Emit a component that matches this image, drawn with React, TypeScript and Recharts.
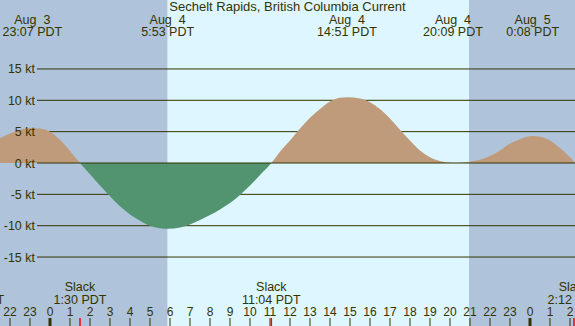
import React from 'react';
import { ComposedChart, Area, XAxis, YAxis, ReferenceArea, ReferenceLine } from 'recharts';

// hours since Aug 4 00:00 PDT
const hours = [-2.5, -2, -1.5, -0.88, -0.5, 0, 0.5, 1, 1.5, 2, 2.5, 3, 3.5, 4, 4.5, 5, 5.5, 5.9, 6.5, 7, 7.5, 8, 8.5, 9, 9.5, 10, 10.5, 11.07, 11.5, 12, 12.5, 13, 13.5, 14, 14.5, 14.85, 15.5, 16, 16.5, 17, 17.5, 18, 18.5, 19, 19.5, 20.15, 21, 21.5, 22, 22.5, 23, 23.5, 24.13, 24.5, 25, 25.5, 26, 26.25];
const knots = [4.0, 4.7, 5.3, 5.6, 5.5, 5.0, 3.7, 1.9, 0, -1.8, -3.6, -5.3, -6.9, -8.2, -9.2, -10.0, -10.4, -10.5, -10.3, -9.8, -9.1, -8.3, -7.4, -6.4, -5.1, -3.6, -1.9, 0, 1.8, 3.6, 5.5, 7.2, 8.6, 9.8, 10.4, 10.5, 10.3, 9.7, 8.6, 7.1, 5.3, 3.6, 2.0, 0.9, 0.3, 0, 0.2, 0.5, 1.1, 2.0, 3.1, 3.8, 4.3, 4.2, 3.6, 2.4, 0.9, 0];

const knotTicks = [-15, -10, -5, 0, 5, 10, 15];
const knotLabels = ['-15 kt', '-10 kt', '-5 kt', '0 kt', '5 kt', '10 kt', '15 kt'];

const hourTicks = [-2, -1, 0, 1, 2, 3, 4, 5, 6, 7, 8, 9, 10, 11, 12, 13, 14, 15, 16, 17, 18, 19, 20, 21, 22, 23, 24, 25, 26];
const hourLabels = ['22', '23', '0', '1', '2', '3', '4', '5', '6', '7', '8', '9', '10', '11', '12', '13', '14', '15', '16', '17', '18', '19', '20', '21', '22', '23', '0', '1', '2'];
const midnightTicks = [0, 24];

const eventHours = [-0.883, 5.883, 14.85, 20.15, 24.133];
const eventDates = ['Aug  3', 'Aug  4', 'Aug  4', 'Aug  4', 'Aug  5'];
const eventTimes = ['23:07 PDT', '5:53 PDT', '14:51 PDT', '20:09 PDT', '0:08 PDT'];

const slackHours = [-3.783, 1.5, 11.067, 26.2];
const slackTimes = ['20:13 PDT', '1:30 PDT', '11:04 PDT', '2:12 PDT'];

const sunrise = 5.883;
const sunset = 20.95;
const xMin = -2.5;
const xMax = 26.25;
const gridStart = -0.65;

const data = hours.map((h, i) => ({ h, v: knots[i] }));

const W = 575;
const H = 326;
const FONT = '"Liberation Sans", Arial, sans-serif';
const TEXT = '#333300';
const NIGHT = '#afc3da';
const DAY = '#ddf6ff';
const FLOOD = '#bf9b7b';
const EBB = '#529470';
const FS = 12.5;

const textStyle: React.CSSProperties = { whiteSpace: 'pre' };

const YTick = (props: any) => {
  const { y, payload } = props;
  const i = knotTicks.indexOf(payload.value);
  return (
    <text x={35} y={y + 4.5} textAnchor="end" fontFamily={FONT} fontSize={FS} fill={TEXT}>
      {knotLabels[i]}
    </text>
  );
};

const HourTick = (props: any) => {
  const { x, payload } = props;
  const i = hourTicks.indexOf(payload.value);
  const thick = midnightTicks.includes(payload.value);
  return (
    <g>
      <text x={x} y={316} textAnchor="middle" fontFamily={FONT} fontSize={12} fill={TEXT}>
        {hourLabels[i]}
      </text>
      <line x1={x} x2={x} y1={318} y2={H} stroke={TEXT} strokeWidth={thick ? 3 : 1} />
    </g>
  );
};

const EventTick = (props: any) => {
  const { x, payload } = props;
  const i = eventHours.indexOf(payload.value);
  return (
    <g>
      <text x={x} y={24} textAnchor="middle" fontFamily={FONT} fontSize={FS} fill={TEXT} style={textStyle}>
        {eventDates[i]}
      </text>
      <text x={x} y={36} textAnchor="middle" fontFamily={FONT} fontSize={FS} fill={TEXT} style={textStyle}>
        {eventTimes[i]}
      </text>
    </g>
  );
};

const SlackTick = (props: any) => {
  const { x, payload } = props;
  const i = slackHours.indexOf(payload.value);
  return (
    <g>
      <text x={x} y={291} textAnchor="middle" fontFamily={FONT} fontSize={FS} fill={TEXT}>
        Slack
      </text>
      <text x={x} y={304} textAnchor="middle" fontFamily={FONT} fontSize={FS} fill={TEXT}>
        {slackTimes[i]}
      </text>
      <line x1={x} x2={x} y1={318} y2={H} stroke="#ff0000" strokeWidth={1.5} />
    </g>
  );
};

export default function App() {
  return (
    <div style={{ position: 'absolute', left: 0, top: 0, width: W, height: H }}>
      <ComposedChart width={W} height={H} data={data} margin={{ top: 0, right: 0, bottom: 0, left: 0 }}>
        <defs>
          <linearGradient id="floodEbb" gradientUnits="userSpaceOnUse" x1="0" y1="0" x2="0" y2={H}>
            <stop offset="0.5" stopColor={FLOOD} />
            <stop offset="0.5" stopColor={EBB} />
          </linearGradient>
        </defs>
        <XAxis
          dataKey="h"
          type="number"
          domain={[xMin, xMax]}
          allowDataOverflow
          ticks={hourTicks}
          interval={0}
          mirror
          axisLine={false}
          tickLine={false}
          tick={<HourTick />}
        />
        <XAxis
          xAxisId="top"
          dataKey="h"
          orientation="top"
          type="number"
          domain={[xMin, xMax]}
          allowDataOverflow
          ticks={eventHours}
          interval={0}
          mirror
          axisLine={false}
          tickLine={false}
          tick={<EventTick />}
        />
        <XAxis
          xAxisId="slack"
          dataKey="h"
          type="number"
          domain={[xMin, xMax]}
          allowDataOverflow
          ticks={slackHours}
          interval={0}
          mirror
          axisLine={false}
          tickLine={false}
          tick={<SlackTick />}
        />
        <YAxis
          type="number"
          domain={[-26, 26]}
          allowDataOverflow
          ticks={knotTicks}
          interval={0}
          mirror
          axisLine={false}
          tickLine={false}
          tick={<YTick />}
        />
        <ReferenceArea x1={xMin} x2={sunrise} fill={NIGHT} fillOpacity={1} stroke="none" zIndex={-300} />
        <ReferenceArea x1={sunrise} x2={sunset} fill={DAY} fillOpacity={1} stroke="none" zIndex={-300} />
        <ReferenceArea x1={sunset} x2={xMax} fill={NIGHT} fillOpacity={1} stroke="none" zIndex={-300} />
        {knotTicks.filter((k) => k !== 0).map((k) => (
          <ReferenceLine
            key={k}
            segment={[{ x: gridStart, y: k }, { x: xMax, y: k }]}
            stroke={TEXT}
            strokeWidth={1}
            zIndex={-200}
          />
        ))}
        <Area
          type="monotone"
          dataKey="v"
          baseValue={0}
          stroke="none"
          fill="url(#floodEbb)"
          fillOpacity={1}
          isAnimationActive={false}
          dot={false}
          activeDot={false}
        />
        <ReferenceLine
          segment={[{ x: gridStart, y: 0 }, { x: xMax, y: 0 }]}
          stroke={TEXT}
          strokeWidth={1}
          zIndex={150}
        />
        <text x={W / 2} y={11} textAnchor="middle" fontFamily={FONT} fontSize={13} fill={TEXT}>
          Sechelt Rapids, British Columbia Current
        </text>
      </ComposedChart>
    </div>
  );
}
